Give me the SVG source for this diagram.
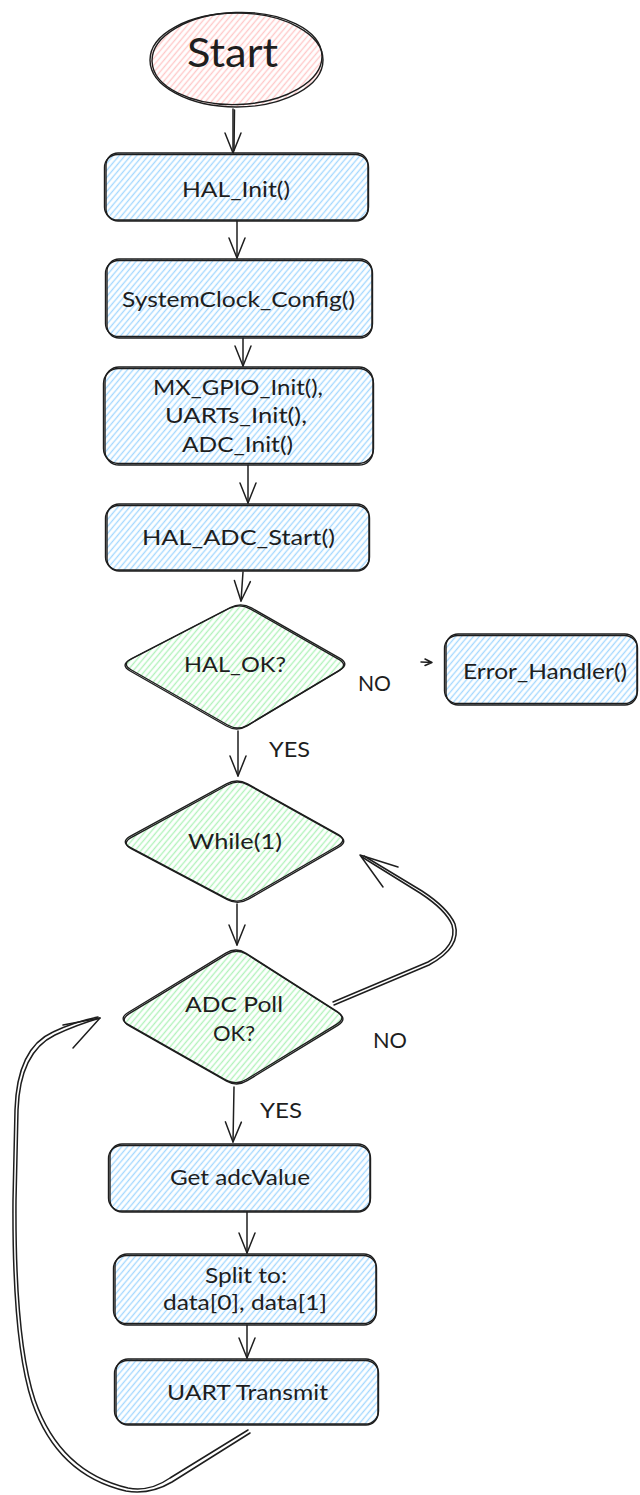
<svg xmlns="http://www.w3.org/2000/svg" width="640" height="1495" viewBox="0 0 640 1495">
<defs>
<pattern id="hr" width="4.5" height="4.5" patternUnits="userSpaceOnUse" patternTransform="rotate(40)"><line x1="2.25" y1="0" x2="2.25" y2="4.5" stroke="#ffc9c9" stroke-width="1.4"/></pattern>
<pattern id="hb" width="4.5" height="4.5" patternUnits="userSpaceOnUse" patternTransform="rotate(40)"><line x1="2.25" y1="0" x2="2.25" y2="4.5" stroke="#a5d8ff" stroke-width="1.4"/></pattern>
<pattern id="hg" width="4.5" height="4.5" patternUnits="userSpaceOnUse" patternTransform="rotate(40)"><line x1="2.25" y1="0" x2="2.25" y2="4.5" stroke="#b2f2bb" stroke-width="1.4"/></pattern>
<marker id="ah" markerUnits="userSpaceOnUse" markerWidth="1" markerHeight="1" refX="0" refY="0" orient="auto" style="overflow:visible"><path d="M-20,-8 L0,0 L-20,8" fill="none" stroke="#1e1e1e" stroke-width="1.5" stroke-linecap="round" stroke-linejoin="round"/></marker>
</defs>
<style>
.s{fill:none;stroke:#1e1e1e;stroke-width:1.4;stroke-linejoin:round;stroke-linecap:round}
.c{fill:none;stroke:#1e1e1e;stroke-width:1.5;stroke-linecap:round;stroke-linejoin:round}
.r{fill:url(#hr);stroke:none}
.b{fill:url(#hb);stroke:none}
.g{fill:url(#hg);stroke:none}
text{font-family:Lato,"Open Sans","Noto Sans",sans-serif;font-size:21px;fill:#1e1e1e;text-anchor:middle}
.l{text-anchor:start}
</style>
<rect width="640" height="1495" fill="#ffffff"/>

<g id="connectors">
<path class="c" d="M233,109 L233,153" marker-end="url(#ah)"/>
<path class="c" d="M234.5,110 L234,150"/>
<path class="c" d="M237,221 L237,258" marker-end="url(#ah)"/>
<path class="c" d="M243,338 L243,366" marker-end="url(#ah)"/>
<path class="c" d="M248,465 L248,503" marker-end="url(#ah)"/>
<path class="c" d="M243,572 L241,601" marker-end="url(#ah)"/>
<path class="c" d="M421,662 L432,662.5 M425,659 L432,662.5 L425,665.5"/>
<path class="c" d="M238,731 L238,776" marker-end="url(#ah)"/>
<path class="c" d="M237,904 L237,945" marker-end="url(#ah)"/>
<path class="c" d="M333,1002 L428,962 Q458,946 452,925 Q446,910 420,893 L362,857"/>
<path class="c" d="M334,1005 L429,965 Q462,947 455,924 Q448,908 422,891 L364,856"/>
<path class="c" d="M398,867 L360,855 L383,887"/>
<path class="c" d="M234,1087 L233,1142" marker-end="url(#ah)"/>
<path class="c" d="M247,1212 L247,1253" marker-end="url(#ah)"/>
<path class="c" d="M247,1325 L247,1358" marker-end="url(#ah)"/>
<path class="c" d="M248,1430 L170,1478 Q150,1492 128,1488 Q60,1472 35,1400 Q15,1340 16,1200 L18,1110 Q20,1052 55,1035 Q76,1025 100,1018"/>
<path class="c" d="M250,1433 L172,1482 Q150,1495 126,1491 Q57,1475 32,1402 Q12,1342 13,1200 L15,1110 Q17,1048 53,1032 Q74,1022 98,1017"/>
<path class="c" d="M63,1025 L100,1018 L73,1048"/>
</g>

<g id="start">
<ellipse cx="236.5" cy="60" rx="86.5" ry="47" class="r"/>
<ellipse cx="236.5" cy="60" rx="86.5" ry="47" class="s"/>
<ellipse cx="237" cy="58.5" rx="85" ry="46" class="s" transform="rotate(-2 237 58)"/>
<text x="232.5" y="67" style="font-size:40px" textLength="91" lengthAdjust="spacingAndGlyphs">Start</text>
</g>

<g id="hal_init">
<rect x="106" y="153" width="262" height="68" rx="12" class="b"/>
<rect x="106" y="153" width="262" height="68" rx="12" class="s"/>
<rect x="104.5" y="154.5" width="264" height="65.5" rx="13" class="s"/>
<text x="236" y="197" textLength="108" lengthAdjust="spacingAndGlyphs">HAL_Init()</text>
</g>

<g id="sysclock">
<rect x="107" y="259" width="265" height="79" rx="12" class="b"/>
<rect x="107" y="259" width="265" height="79" rx="12" class="s"/>
<rect x="105.5" y="260.5" width="267" height="76" rx="13" class="s"/>
<text x="238.5" y="307" textLength="233" lengthAdjust="spacingAndGlyphs">SystemClock_Config()</text>
</g>

<g id="mx_init">
<rect x="105" y="367" width="268" height="98" rx="14" class="b"/>
<rect x="105" y="367" width="268" height="98" rx="14" class="s"/>
<rect x="103.5" y="368.5" width="270" height="95" rx="15" class="s"/>
<text x="238" y="395" textLength="170" lengthAdjust="spacingAndGlyphs">MX_GPIO_Init(),</text>
<text x="236" y="423" textLength="142" lengthAdjust="spacingAndGlyphs">UARTs_Init(),</text>
<text x="237.5" y="452" textLength="111" lengthAdjust="spacingAndGlyphs">ADC_Init()</text>
</g>

<g id="adc_start">
<rect x="107" y="504" width="262" height="67" rx="12" class="b"/>
<rect x="107" y="504" width="262" height="67" rx="12" class="s"/>
<rect x="105.5" y="505.5" width="264" height="64.5" rx="13" class="s"/>
<text x="238.5" y="545" textLength="193" lengthAdjust="spacingAndGlyphs">HAL_ADC_Start()</text>
</g>

<g id="hal_ok">
<path class="g" d="M251.4,607.9 L339.6,658.1 Q350,664 339.7,670.2 L248.3,724.8 Q238,731 227.6,725 L131.4,670 Q121,664 131.7,658.5 L230.3,607.5 Q241,602 251.4,607.9 Z"/>
<path class="s" d="M251.4,607.9 L339.6,658.1 Q350,664 339.7,670.2 L248.3,724.8 Q238,731 227.6,725 L131.4,670 Q121,664 131.7,658.5 L230.3,607.5 Q241,602 251.4,607.9 Z"/>
<path class="s" d="M251.4,607.9 L339.6,658.1 Q350,664 339.7,670.2 L248.3,724.8 Q238,731 227.6,725 L131.4,670 Q121,664 131.7,658.5 L230.3,607.5 Q241,602 251.4,607.9 Z" transform="translate(-1.2,1)"/>
<text x="235" y="672" textLength="102" lengthAdjust="spacingAndGlyphs">HAL_OK?</text>
</g>
<text class="l" x="358" y="691" textLength="33" lengthAdjust="spacingAndGlyphs">NO</text>
<text class="l" x="269" y="757" textLength="41" lengthAdjust="spacingAndGlyphs">YES</text>

<g id="error_handler">
<rect x="446" y="634" width="191" height="71" rx="12" class="b"/>
<rect x="446" y="634" width="191" height="71" rx="12" class="s"/>
<rect x="444.5" y="635.5" width="193" height="68" rx="13" class="s"/>
<text x="545" y="679" textLength="164" lengthAdjust="spacingAndGlyphs">Error_Handler()</text>
</g>

<g id="while">
<path class="g" d="M247.5,783.9 L337.5,834.1 Q348,840 337.6,846 L247.4,898 Q237,904 226.4,898.4 L130.6,847.6 Q120,842 130.5,836.2 L226.5,783.8 Q237,778 247.5,783.9 Z"/>
<path class="s" d="M247.5,783.9 L337.5,834.1 Q348,840 337.6,846 L247.4,898 Q237,904 226.4,898.4 L130.6,847.6 Q120,842 130.5,836.2 L226.5,783.8 Q237,778 247.5,783.9 Z"/>
<path class="s" d="M247.5,783.9 L337.5,834.1 Q348,840 337.6,846 L247.4,898 Q237,904 226.4,898.4 L130.6,847.6 Q120,842 130.5,836.2 L226.5,783.8 Q237,778 247.5,783.9 Z" transform="translate(1,1.2)"/>
<text x="235" y="849" textLength="94" lengthAdjust="spacingAndGlyphs">While(1)</text>
</g>

<g id="adc_poll">
<path class="g" d="M247.1,954.5 L337.9,1012.5 Q348,1019 337.8,1025.3 L247.2,1080.7 Q237,1087 226.6,1081.1 L129.4,1025.9 Q119,1020 129.2,1013.7 L226.8,954.3 Q237,948 247.1,954.5 Z"/>
<path class="s" d="M247.1,954.5 L337.9,1012.5 Q348,1019 337.8,1025.3 L247.2,1080.7 Q237,1087 226.6,1081.1 L129.4,1025.9 Q119,1020 129.2,1013.7 L226.8,954.3 Q237,948 247.1,954.5 Z"/>
<path class="s" d="M247.1,954.5 L337.9,1012.5 Q348,1019 337.8,1025.3 L247.2,1080.7 Q237,1087 226.6,1081.1 L129.4,1025.9 Q119,1020 129.2,1013.7 L226.8,954.3 Q237,948 247.1,954.5 Z" transform="translate(-1,-1.2)"/>
<text x="234" y="1012" textLength="98" lengthAdjust="spacingAndGlyphs">ADC Poll</text>
<text x="234" y="1041" textLength="42" lengthAdjust="spacingAndGlyphs">OK?</text>
</g>
<text class="l" x="373" y="1048" textLength="34" lengthAdjust="spacingAndGlyphs">NO</text>
<text class="l" x="260" y="1118" textLength="42" lengthAdjust="spacingAndGlyphs">YES</text>

<g id="get_adc">
<rect x="110" y="1144" width="260" height="68" rx="12" class="b"/>
<rect x="110" y="1144" width="260" height="68" rx="12" class="s"/>
<rect x="108.5" y="1145.5" width="262" height="65.5" rx="13" class="s"/>
<text x="240" y="1185" textLength="140" lengthAdjust="spacingAndGlyphs">Get adcValue</text>
</g>

<g id="split">
<rect x="115" y="1254" width="261" height="71" rx="12" class="b"/>
<rect x="115" y="1254" width="261" height="71" rx="12" class="s"/>
<rect x="113.5" y="1255.5" width="263" height="68" rx="13" class="s"/>
<text x="246" y="1283" textLength="82" lengthAdjust="spacingAndGlyphs">Split to:</text>
<text x="245" y="1310" textLength="164" lengthAdjust="spacingAndGlyphs">data[0], data[1]</text>
</g>

<g id="uart_tx">
<rect x="116" y="1359" width="262" height="66" rx="12" class="b"/>
<rect x="116" y="1359" width="262" height="66" rx="12" class="s"/>
<rect x="114.5" y="1360.5" width="264" height="63.5" rx="13" class="s"/>
<text x="247.5" y="1400" textLength="161" lengthAdjust="spacingAndGlyphs">UART Transmit</text>
</g>
</svg>
